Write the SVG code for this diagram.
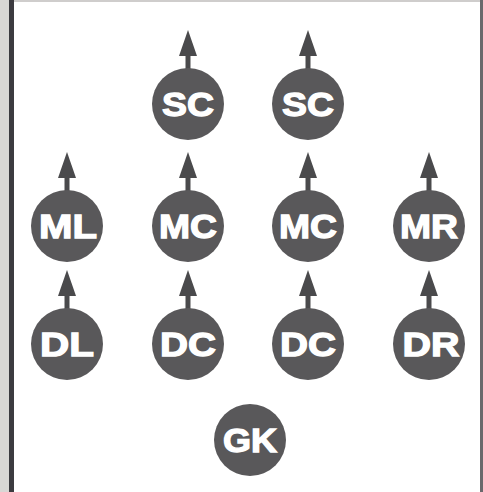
<svg xmlns="http://www.w3.org/2000/svg" width="483" height="492" viewBox="0 0 483 492">
<style>
.p circle{fill:#59585a}
.p text{font-family:"Liberation Sans",Arial,sans-serif;font-weight:bold;font-size:34px;fill:#fff;stroke:#fff;stroke-width:1.3;text-anchor:middle}
.a{stroke:#4a4a4c;stroke-width:5;fill:none}
</style>
<defs>
<marker id="ah" markerUnits="userSpaceOnUse" markerWidth="26" markerHeight="18" viewBox="0 0 26 18" refX="1" refY="9" orient="auto">
<path d="M0 0 L26 9 L0 18 Z" fill="#4a4a4c"/>
</marker>
</defs>
<rect x="0" y="0" width="483" height="492" fill="#fff"/>
<rect x="0" y="0" width="9" height="492" fill="#d9d7d5"/>
<rect x="9" y="0" width="5" height="492" fill="#3c3b40"/>
<rect x="14" y="0" width="469" height="2" fill="#cfcdcc"/>
<rect x="480" y="0" width="3" height="492" fill="#6a696c"/>
<g id="connectors">
<line class="a" x1="188" y1="70" x2="188" y2="55" marker-end="url(#ah)"/>
<line class="a" x1="308" y1="70" x2="308" y2="55" marker-end="url(#ah)"/>
<line class="a" x1="67" y1="192" x2="67" y2="177" marker-end="url(#ah)"/>
<line class="a" x1="188" y1="192" x2="188" y2="177" marker-end="url(#ah)"/>
<line class="a" x1="308" y1="192" x2="308" y2="177" marker-end="url(#ah)"/>
<line class="a" x1="429" y1="192" x2="429" y2="177" marker-end="url(#ah)"/>
<line class="a" x1="67" y1="310" x2="67" y2="295" marker-end="url(#ah)"/>
<line class="a" x1="188" y1="310" x2="188" y2="295" marker-end="url(#ah)"/>
<line class="a" x1="308" y1="310" x2="308" y2="295" marker-end="url(#ah)"/>
<line class="a" x1="429" y1="310" x2="429" y2="295" marker-end="url(#ah)"/>
</g>
<g id="sc1" class="p"><circle cx="188" cy="104" r="36"/><text x="188" y="116" textLength="52" lengthAdjust="spacingAndGlyphs">SC</text></g>
<g id="sc2" class="p"><circle cx="308" cy="104" r="36"/><text x="308" y="116" textLength="52" lengthAdjust="spacingAndGlyphs">SC</text></g>
<g id="ml" class="p"><circle cx="67" cy="226" r="36"/><text x="68" y="238" textLength="58" lengthAdjust="spacingAndGlyphs">ML</text></g>
<g id="mc1" class="p"><circle cx="188" cy="226" r="36"/><text x="188" y="238" textLength="58" lengthAdjust="spacingAndGlyphs">MC</text></g>
<g id="mc2" class="p"><circle cx="308" cy="226" r="36"/><text x="308" y="238" textLength="58" lengthAdjust="spacingAndGlyphs">MC</text></g>
<g id="mr" class="p"><circle cx="429" cy="226" r="36"/><text x="429" y="238" textLength="58" lengthAdjust="spacingAndGlyphs">MR</text></g>
<g id="dl" class="p"><circle cx="67" cy="344" r="36"/><text x="67" y="356" textLength="54" lengthAdjust="spacingAndGlyphs">DL</text></g>
<g id="dc1" class="p"><circle cx="188" cy="344" r="36"/><text x="188" y="356" textLength="56" lengthAdjust="spacingAndGlyphs">DC</text></g>
<g id="dc2" class="p"><circle cx="308" cy="344" r="36"/><text x="308" y="356" textLength="56" lengthAdjust="spacingAndGlyphs">DC</text></g>
<g id="dr" class="p"><circle cx="429" cy="344" r="36"/><text x="431" y="356" textLength="57" lengthAdjust="spacingAndGlyphs">DR</text></g>
<g id="gk" class="p"><circle cx="250" cy="440" r="36"/><text x="250" y="452" textLength="54" lengthAdjust="spacingAndGlyphs">GK</text></g>
</svg>
